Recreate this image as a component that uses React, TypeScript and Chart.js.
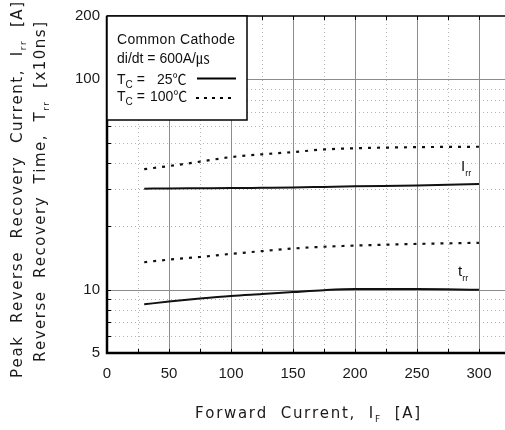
import React, { useEffect, useRef } from "react";
import { Chart, registerables } from "chart.js";

Chart.register(...registerables);

// ---- data ----
const forwardCurrent = [30, 50, 75, 100, 125, 150, 175, 200, 250, 300];
const irr25 = [30.2, 30.3, 30.35, 30.4, 30.5, 30.6, 30.8, 31.0, 31.3, 31.8];
const irr100 = [37.4, 38.7, 40.6, 42.7, 44.0, 45.1, 46.4, 47.0, 47.6, 47.8];
const trr25 = [8.52, 8.78, 9.07, 9.33, 9.53, 9.74, 9.95, 10.07, 10.08, 10.0];
const trr100 = [13.5, 13.9, 14.3, 14.8, 15.25, 15.7, 16.0, 16.2, 16.5, 16.7];

const xTickValues = [0, 50, 100, 150, 200, 250, 300];
const yTickValues = [5, 10, 100, 200];
const xMajorGrid = [50, 100, 150, 200, 250, 300];
const xMinorGrid = [25, 75, 125, 175, 225, 275];
const yMajorGrid = [10, 100];
const yMinorGrid = [6, 7, 8, 9, 20, 30, 40, 50, 60, 70, 80, 90];
const xInnerTicks = [25, 50, 75, 100, 125, 150, 175, 200, 225, 250, 275, 300];

const X_MIN = 0;
const X_MAX = 321;
const Y_MIN = 5;
const Y_MAX = 200;

const FONT = '"Liberation Sans", Arial, "Noto Sans CJK KR", sans-serif';
const TITLE_FONT = '"DejaVu Sans", "Liberation Sans", sans-serif';

type Part = { t: string; sub?: boolean };

function drawRich(
  ctx: CanvasRenderingContext2D,
  parts: Part[],
  x: number,
  baseline: number,
  size: number,
  subSize: number,
  subDrop: number,
  align: "left" | "center",
  target?: number,
  family: string = FONT
) {
  const chars: { c: string; sub: boolean; w: number }[] = [];
  for (const p of parts) {
    ctx.font = `${p.sub ? subSize : size}px ${family}`;
    for (const c of Array.from(p.t)) {
      chars.push({ c, sub: !!p.sub, w: ctx.measureText(c).width });
    }
  }
  const natural = chars.reduce((s, ch) => s + ch.w, 0);
  const extra = target && chars.length > 1 ? (target - natural) / (chars.length - 1) : 0;
  const total = target ?? natural;
  let cx = align === "center" ? x - total / 2 : x;
  ctx.textAlign = "left";
  ctx.textBaseline = "alphabetic";
  for (const ch of chars) {
    ctx.font = `${ch.sub ? subSize : size}px ${family}`;
    ctx.fillText(ch.c, cx, baseline + (ch.sub ? subDrop : 0));
    cx += ch.w + extra;
  }
}

const decorPlugin = {
  id: "decor",
  beforeDatasetsDraw(chart: any) {
    const { ctx, chartArea: a } = chart;
    const xs = chart.scales.x;
    const ys = chart.scales.y;
    ctx.save();
    ctx.beginPath();
    ctx.rect(a.left, a.top, a.right - a.left, a.bottom - a.top);
    ctx.clip();
    ctx.lineWidth = 1;
    ctx.strokeStyle = "#b4b4b4";
    ctx.setLineDash([1, 3]);
    for (const v of xMinorGrid) {
      const px = Math.round(xs.getPixelForValue(v)) + 0.5;
      ctx.beginPath();
      ctx.moveTo(px, a.top);
      ctx.lineTo(px, a.bottom);
      ctx.stroke();
    }
    for (const v of yMinorGrid) {
      const py = Math.round(ys.getPixelForValue(v)) + 0.5;
      ctx.beginPath();
      ctx.moveTo(a.left, py);
      ctx.lineTo(a.right, py);
      ctx.stroke();
    }
    ctx.setLineDash([]);
    ctx.strokeStyle = "#8c8c8c";
    for (const v of xMajorGrid) {
      const px = Math.round(xs.getPixelForValue(v)) + 0.5;
      ctx.beginPath();
      ctx.moveTo(px, a.top);
      ctx.lineTo(px, a.bottom);
      ctx.stroke();
    }
    for (const v of yMajorGrid) {
      const py = Math.round(ys.getPixelForValue(v)) + 0.5;
      ctx.beginPath();
      ctx.moveTo(a.left, py);
      ctx.lineTo(a.right, py);
      ctx.stroke();
    }
    ctx.restore();
  },
  afterDatasetsDraw(chart: any) {
    const { ctx, chartArea: a } = chart;
    const xs = chart.scales.x;
    const ys = chart.scales.y;
    ctx.save();
    ctx.fillStyle = "#1a1a1a";
    ctx.strokeStyle = "#000";

    ctx.lineWidth = 1;
    for (const v of xInnerTicks) {
      const px = Math.round(xs.getPixelForValue(v)) + 0.5;
      ctx.beginPath();
      ctx.moveTo(px, a.top);
      ctx.lineTo(px, a.top + 4);
      ctx.moveTo(px, a.bottom);
      ctx.lineTo(px, a.bottom - 4);
      ctx.stroke();
    }
    for (const v of [...yMinorGrid, ...yMajorGrid]) {
      const py = Math.round(ys.getPixelForValue(v)) + 0.5;
      ctx.beginPath();
      ctx.moveTo(a.left, py);
      ctx.lineTo(a.left + 4, py);
      ctx.stroke();
    }

    ctx.lineWidth = 1.5;
    ctx.beginPath();
    ctx.moveTo(a.left, a.top);
    ctx.lineTo(a.right, a.top);
    ctx.stroke();
    ctx.lineWidth = 2.5;
    ctx.beginPath();
    ctx.moveTo(a.left, a.top);
    ctx.lineTo(a.left, a.bottom);
    ctx.lineTo(a.right, a.bottom);
    ctx.stroke();

    // legend box
    const bx = a.left;
    const by = a.top;
    const bw = 140;
    const bh = 104;
    ctx.fillStyle = "#fff";
    ctx.fillRect(bx, by, bw, bh);
    ctx.lineWidth = 1.5;
    ctx.strokeRect(bx, by, bw, bh);
    ctx.fillStyle = "#111";
    drawRich(ctx, [{ t: "Common Cathode" }], bx + 10, by + 28, 14, 10, 0, "left", 118);
    drawRich(ctx, [{ t: "di/dt = 600A/㎲" }], bx + 10, by + 47, 14, 10, 0, "left");
    drawRich(ctx, [{ t: "T" }, { t: "C", sub: true }, { t: " =" }], bx + 10, by + 68, 14, 10, 4, "left");
    drawRich(ctx, [{ t: "25℃" }], bx + 50, by + 68, 14, 10, 0, "left");
    drawRich(ctx, [{ t: "T" }, { t: "C", sub: true }, { t: " =" }], bx + 10, by + 85, 14, 10, 4, "left");
    drawRich(ctx, [{ t: "100℃" }], bx + 43, by + 85, 14, 10, 0, "left");
    ctx.strokeStyle = "#000";
    ctx.lineWidth = 2;
    ctx.beginPath();
    ctx.moveTo(bx + 90, by + 62.5);
    ctx.lineTo(bx + 129, by + 62.5);
    ctx.stroke();
    ctx.setLineDash([3, 5]);
    ctx.beginPath();
    ctx.moveTo(bx + 89, by + 82);
    ctx.lineTo(bx + 129, by + 82);
    ctx.stroke();
    ctx.setLineDash([]);

    // curve labels
    drawRich(ctx, [{ t: "I" }, { t: "rr", sub: true }], 461, 171, 15, 9, 5, "left");
    drawRich(ctx, [{ t: "t" }, { t: "rr", sub: true }], 458, 276, 15, 9, 5, "left");

    ctx.restore();
  },
  afterDraw(chart: any) {
    const { ctx } = chart;
    ctx.save();
    ctx.fillStyle = "#1a1a1a";
    drawRich(
      ctx,
      [{ t: "Forward  Current,  I" }, { t: "F", sub: true }, { t: "  [A]" }],
      307.5,
      418,
      15,
      9,
      4,
      "center",
      225,
      TITLE_FONT
    );
    ctx.save();
    ctx.translate(22, 190);
    ctx.rotate(-Math.PI / 2);
    drawRich(
      ctx,
      [{ t: "Peak  Reverse  Recovery  Current,  I" }, { t: "rr", sub: true }, { t: "  [A]" }],
      0,
      0,
      15,
      9,
      4,
      "center",
      376,
      TITLE_FONT
    );
    ctx.restore();
    ctx.save();
    ctx.translate(45, 192);
    ctx.rotate(-Math.PI / 2);
    drawRich(
      ctx,
      [{ t: "Reverse  Recovery  Time,  T" }, { t: "rr", sub: true }, { t: "  [x10ns]" }],
      0,
      0,
      15,
      9,
      4,
      "center",
      340,
      TITLE_FONT
    );
    ctx.restore();
    ctx.restore();
  },
};

function mk(values: number[]) {
  return forwardCurrent.map((x, i) => ({ x, y: values[i] }));
}

export default function App() {
  const ref = useRef<HTMLCanvasElement | null>(null);

  useEffect(() => {
    document.body.style.margin = "0";
    const canvas = ref.current;
    if (!canvas) return;
    const solid = { borderColor: "#111", borderWidth: 2, pointRadius: 0, tension: 0.4, cubicInterpolationMode: "monotone" as const, fill: false };
    const dashed = { ...solid, borderDash: [3, 6], borderWidth: 2.2 };
    const chart = new Chart(canvas, {
      type: "line",
      data: {
        datasets: [
          { label: "Irr Tc=25", data: mk(irr25), ...solid },
          { label: "Irr Tc=100", data: mk(irr100), ...dashed },
          { label: "trr Tc=25", data: mk(trr25), ...solid },
          { label: "trr Tc=100", data: mk(trr100), ...dashed },
        ],
      },
      options: {
        animation: false,
        responsive: false,
        devicePixelRatio: 1,
        layout: { padding: { top: 14, left: 0, right: 0, bottom: 0 } },
        plugins: { legend: { display: false }, tooltip: { enabled: false } },
        scales: {
          x: {
            type: "linear",
            min: X_MIN,
            max: X_MAX,
            grid: { display: false, drawTicks: false },
            border: { display: false },
            afterBuildTicks: (s: any) => {
              s.ticks = xTickValues.map((v) => ({ value: v }));
            },
            afterFit: (s: any) => {
              s.height = 77;
            },
            ticks: {
              padding: 12,
              maxRotation: 0,
              autoSkip: false,
              color: "#1a1a1a",
              font: { family: FONT, size: 15 },
              callback: (v: any) => String(v),
            },
          },
          y: {
            type: "logarithmic",
            min: Y_MIN,
            max: Y_MAX,
            grid: { display: false, drawTicks: false },
            border: { display: false },
            afterBuildTicks: (s: any) => {
              s.ticks = yTickValues.map((v) => ({ value: v }));
            },
            afterFit: (s: any) => {
              s.width = 107;
            },
            ticks: {
              padding: 7,
              autoSkip: false,
              color: "#1a1a1a",
              font: { family: FONT, size: 15 },
              callback: (v: any) => String(v),
            },
          },
        },
      },
      plugins: [decorPlugin],
    });
    return () => chart.destroy();
  }, []);

  return (
    <div style={{ width: 505, height: 430, background: "#fff" }}>
      <canvas ref={ref} width={505} height={430} style={{ display: "block" }} />
    </div>
  );
}
